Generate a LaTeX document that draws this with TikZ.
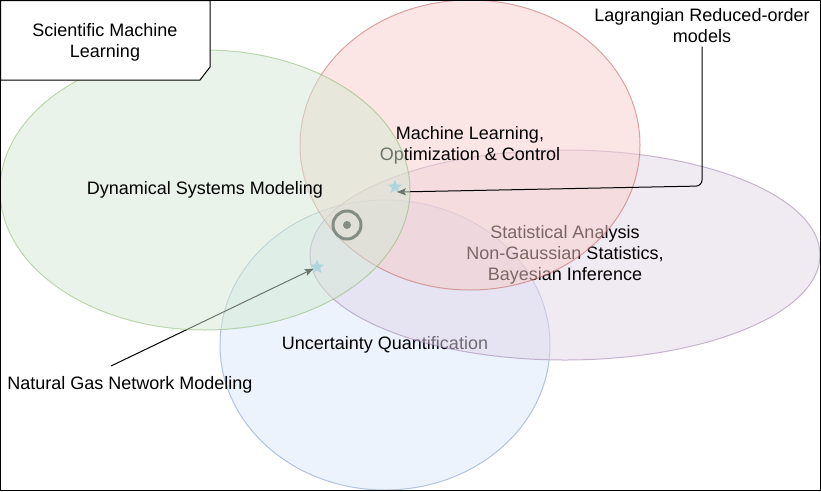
\documentclass[tikz,border=0pt]{standalone}
\usepackage{fontspec}
\setmainfont{Liberation Sans}
\usetikzlibrary{shapes.geometric,arrows.meta}
\definecolor{gfill}{HTML}{D5E8D4}
\definecolor{gline}{HTML}{82B366}
\definecolor{rfill}{HTML}{F8CECC}
\definecolor{rline}{HTML}{B85450}
\definecolor{pfill}{HTML}{E1D5E7}
\definecolor{pline}{HTML}{9673A6}
\definecolor{bfill}{HTML}{DAE8FC}
\definecolor{bline}{HTML}{6C8EBF}
\definecolor{starblue}{HTML}{8CC4E8}
\definecolor{ringgray}{HTML}{333333}

\begin{document}
\begin{tikzpicture}[x=1pt,y=-1pt,
	every node/.style={font=\fontsize{18}{21}\selectfont, align=center},
	field/.style={ellipse, inner sep=0pt, line width=1pt, fill opacity=0.5, draw opacity=0.5, text opacity=1},
	starnode/.style={star, star points=5, star point ratio=2.3, minimum size=15pt, inner sep=0pt, fill=starblue},
	pointer/.style={line width=1pt, -{Stealth[length=9pt,width=7pt,inset=2pt]}}]
			\useasboundingbox (0,0) rectangle (821,491);
			\node[field, draw=bline, fill=bfill, minimum width=330pt, minimum height=290pt] (uq) at (385,345) {Uncertainty Quantification};
			\node[field, draw=pline, fill=pfill, minimum width=510pt, minimum height=210pt] (sa) at (565,255) {Statistical Analysis\\Non-Gaussian Statistics,\\Bayesian Inference};
			\node[field, draw=rline, fill=rfill, minimum width=340pt, minimum height=290pt] (ml) at (470,145) {Machine Learning,\\Optimization \& Control};
			\node[starnode] (st1) at (395,187) {};
			\node[starnode] (st2) at (317,267) {};
			\node (lrom) at (702,26) {Lagrangian Reduced-order\\models};
			\node (ngn) at (130,385) {Natural Gas Network Modeling};
			\coordinate (bend) at (702,186);
			\coordinate (lend) at (397,192);
			\coordinate (ngs) at (111,366);
			\draw[pointer, rounded corners=6pt] (lrom.south) -- (bend) -- (lend);
			\draw[pointer] (ngs) -- (st2);
			\node[circle, draw=ringgray, line width=3pt, minimum size=28pt, inner sep=0pt] (ring) at (347,225) {};
			\fill[ringgray] (ring.center) circle (4pt);
			\node[field, draw=gline, fill=gfill, minimum width=410pt, minimum height=280pt] (dsm) at (205,190) {Dynamical Systems Modeling};
			\draw[line width=1pt] (0.5,0.5) rectangle (820.5,490.5);
			\draw[line width=1pt, fill=white] (0.5,0.5) -- (210,0.5) -- (210,67) -- (200,80) -- (0.5,80) -- cycle;
			\node (sml) at (105,42) {Scientific Machine\\Learning};
\end{tikzpicture}
\end{document}
